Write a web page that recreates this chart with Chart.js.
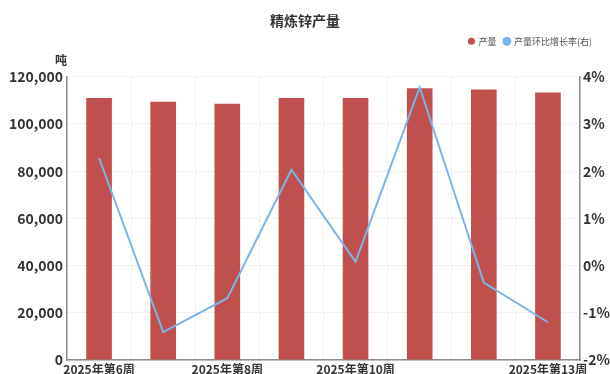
<!DOCTYPE html>
<html>
<head>
<meta charset="utf-8">
<script src="https://cdn.jsdelivr.net/npm/chart.js@4"></script>
<style>
  html, body { margin: 0; padding: 0; background: #fff; }
  #wrap { width: 610px; height: 374px; }
</style>
</head>
<body>
<div id="wrap"><canvas id="c" width="610" height="374"></canvas></div>
<script>
// 精炼锌产量（周度）— 柱：产量（吨），线：环比增长率（右轴，%）
const WEEKS = ['2025年第6周','2025年第7周','2025年第8周','2025年第9周','2025年第10周','2025年第11周','2025年第12周','2025年第13周'];
const SHOWN = [0, 2, 4, 7];   // 原图只标了这几个刻度
const OUTPUT = [111000, 109400, 108600, 111000, 111000, 115200, 114600, 113300];
const MOM = [2.28, -1.41, -0.69, 2.03, 0.08, 3.78, -0.36, -1.20];

const FONT = '"Noto Sans CJK SC", "Noto Sans", sans-serif';
const TXT = '#333';
const GRID = '#e6e6e6';
const AXIS = '#8c8c8c';

// 图例下方多留点空给 "吨"，图例整体往左挪一点
const legendTweak = {
  id: 'legendTweak',
  afterInit(chart) {
    const lg = chart.legend;
    const fit = lg.fit, draw = lg.draw;
    lg.fit = function () { fit.call(this); this.height += 21; };
    lg.draw = function () {
      this.ctx.save();
      this.ctx.translate(-10, 0);
      draw.call(this);
      this.ctx.restore();
    };
  }
};

// "吨" 单位标签，放在左轴上方
const unitLabel = {
  id: 'unitLabel',
  afterDraw(chart) {
    const { ctx, chartArea } = chart;
    ctx.save();
    ctx.font = `bold 12px ${FONT}`;
    ctx.fillStyle = TXT;
    ctx.textAlign = 'center';
    ctx.textBaseline = 'middle';
    ctx.fillText('吨', chartArea.left - 6, chartArea.top - 16);
    ctx.restore();
  }
};

new Chart(document.getElementById('c'), {
  data: {
    labels: WEEKS,
    datasets: [
      {
        type: 'line', label: '产量环比增长率(右)', data: MOM, yAxisID: 'y1',
        borderColor: '#7ab4e8', backgroundColor: '#7ab4e8', borderWidth: 2,
        pointRadius: 0, tension: 0, order: 0,
      },
      {
        type: 'bar', label: '产量', data: OUTPUT, yAxisID: 'y',
        backgroundColor: '#c0504d', barPercentage: 0.5, categoryPercentage: 0.8, order: 1,
      },
    ]
  },
  options: {
    responsive: false,
    animation: false,
    plugins: {
      title: {
        display: true, text: '精炼锌产量', color: TXT,
        font: { family: FONT, size: 14, weight: 'bold' },
        padding: { top: 12, bottom: 0 },
      },
      legend: {
        position: 'top', align: 'end', reverse: true,
        labels: {
          font: { family: FONT, size: 9 }, color: '#555',
          usePointStyle: true, pointStyle: 'circle', boxWidth: 5, boxHeight: 5, padding: 8,
        }
      },
      tooltip: { enabled: false },
    },
    scales: {
      x: {
        offset: true,
        grid: { offset: true, color: GRID, drawTicks: false },
        border: { color: AXIS, width: 1.5, dash: [2, 2] },
        ticks: {
          autoSkip: false, maxRotation: 0, padding: 2, color: TXT,
          font: { family: FONT, size: 12, weight: 'bold' },
          callback: (v, i) => SHOWN.includes(i) ? WEEKS[i] : '',
        },
        afterFit: s => { s.height = 14; },
      },
      y: {
        position: 'left', min: 0, max: 120000,
        grid: { color: GRID, drawTicks: false },
        border: { color: AXIS, width: 1.5, dash: [2, 2] },
        ticks: {
          stepSize: 20000, padding: 4, color: TXT,
          font: { family: FONT, size: 14, weight: 'bold' },
          callback: v => v.toLocaleString('en-US'),
        },
        afterFit: s => { s.width = 67; },
      },
      y1: {
        position: 'right', min: -2, max: 4,
        grid: { display: false, drawTicks: false },
        border: { color: AXIS, width: 1.5 },
        ticks: {
          stepSize: 1, padding: 3, color: TXT,
          font: { family: FONT, size: 14, weight: 'bold' },
          callback: v => v + '%',
        },
        afterFit: s => { s.width = 30; },
      },
    }
  },
  plugins: [legendTweak, unitLabel]
});
</script>
</body>
</html>
